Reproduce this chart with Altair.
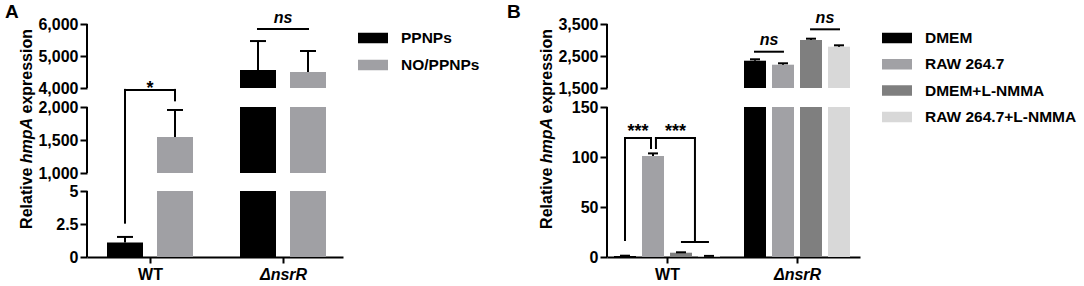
import altair as alt
import pandas as pd

FONT = "Liberation Sans, Arial, Helvetica, sans-serif"

# ---------------- Panel A values ----------------
A_groups = ["WT", "ΔnsrR"]
A_series = ["PPNPs", "NO/PPNPs"]
A_colors = ["#000000", "#a0a0a4"]
A_mean_WT = [1.1, 1545]
A_mean_nsrR = [4560, 4500]
A_sem_WT = [0.42, 410]
A_sem_nsrR = [907, 656]
A_ticks = [0, 2.5, 5, 1000, 1500, 2000, 4000, 5000, 6000]
A_seg_lo = [0, 1000, 4000]
A_seg_hi = [5, 2000, 6000]
# significance annotations (data units)
A_line_x1 = [-0.188, -0.188, 0.188, 0.812]
A_line_y1 = [2.6, 3800, 3800, 5844]
A_line_x2 = [-0.188, 0.188, 0.188, 1.188]
A_line_y2 = [3800, 3800, 2700, 5844]
A_star_text = ["*"]
A_star_x = [0.0]
A_star_y = [3370]
A_ns_x = [1.0]
A_ns_y = [6031]

# ---------------- Panel B values ----------------
B_groups = ["WT", "ΔnsrR"]
B_series = ["DMEM", "RAW 264.7", "DMEM+L-NMMA", "RAW 264.7+L-NMMA"]
B_colors = ["#000000", "#a1a1a5", "#7f7f7f", "#d8d8d8"]
B_mean_WT = [1.0, 101, 4.3, 0.8]
B_mean_nsrR = [2353, 2228, 3000, 2791]
B_sem_WT = [0.3, 2.6, 0.4, 0.3]
B_sem_nsrR = [44, 44, 41, 43]
B_ticks = [0, 50, 100, 150, 1500, 2500, 3500]
B_seg_lo = [0, 1500]
B_seg_hi = [150, 3500]
B_line_x1 = [-0.323, -0.323, -0.123, -0.085, -0.085, 0.215, 0.115, 0.677, 1.108]
B_line_y1 = [17, 119, 119, 109, 119, 119, 15, 2634, 3334]
B_line_x2 = [-0.323, -0.123, -0.123, -0.085, 0.215, 0.215, 0.315, 0.892, 1.323]
B_line_y2 = [119, 119, 109, 119, 119, 15, 15, 2634, 3334]
B_star_text = ["***", "***"]
B_star_x = [-0.223, 0.065]
B_star_y = [120, 120]
B_ns_x = [0.785, 1.215]
B_ns_y = [2844, 3531]


def bar_table(groups, series, means, sems):
    rows = []
    for gi, g in enumerate(groups):
        for si, s in enumerate(series):
            rows.append({"group": g, "gi": gi, "series": s, "si": si,
                         "mean": means[gi][si], "sem": sems[gi][si]})
    return pd.DataFrame(rows)


def panel(groups, series, colors, means, sems, ticks, seg_lo, seg_hi,
          y_dom, y_rng, x_dom, slot, half, cap, lines, stars, ns,
          legend_xy, row_pad, letter, letter_x, width, height):
    n = len(series)
    xs = alt.Scale(domain=x_dom, nice=False, zero=False)
    ys = alt.Scale(domain=y_dom, range=y_rng, nice=False, zero=False)
    cs = alt.Scale(domain=series, range=colors)

    y_axis = alt.Axis(values=ticks, labelExpr="format(datum.value, ',')", domain=False,
                      grid=False, tickSize=7, tickWidth=2, tickColor="black",
                      labelFont=FONT, labelFontSize=16, labelFontWeight="bold",
                      labelColor="black", labelPadding=2, labelOverlap=False, title=None)
    x_axis = alt.Axis(values=[0, 1],
                      labelExpr="datum.value == 0 ? '%s' : '%s'" % (groups[0], groups[1]),
                      labelFontStyle={"condition": {"test": "datum.value == 1", "value": "italic"},
                                      "value": "normal"},
                      domainWidth=2, domainColor="black", tickSize=6, tickWidth=2,
                      tickColor="black", grid=False, labelFont=FONT, labelFontSize=16,
                      labelFontWeight="bold", labelColor="black", labelPadding=3,
                      labelFlush=False, labelOverlap=False, title=None)
    legend = alt.Legend(orient="none", legendX=legend_xy[0], legendY=legend_xy[1], title=None,
                        direction="vertical", symbolType="M-1,-0.35H1V0.35H-1Z",
                        symbolSize=900, symbolStrokeWidth=0, symbolOpacity=1,
                        clipHeight=16, rowPadding=row_pad, padding=0,
                        labelFont=FONT, labelFontSize=15.5, labelFontWeight="bold",
                        labelColor="black", labelOffset=13, labelLimit=400)

    def X(field, **kw):
        return alt.X(field, scale=xs, axis=x_axis, **kw)

    def Y(field, **kw):
        return alt.Y(field, scale=ys, axis=y_axis, **kw)

    df = bar_table(groups, series, means, sems)
    base = alt.Chart(df).transform_calculate(
        xc=f"datum.gi + (datum.si - {(n - 1) / 2}) * {slot}",
        hi="datum.mean + datum.sem",
    ).transform_calculate(
        x_left=f"datum.xc - {half}", x_right=f"datum.xc + {half}",
        cap_l=f"datum.xc - {cap}", cap_r=f"datum.xc + {cap}",
    )

    layers = []
    # axis segments (broken y axis)
    seg_df = pd.DataFrame({"lo": seg_lo, "hi": seg_hi})
    layers.append(alt.Chart(seg_df).mark_rule(color="black", strokeWidth=2).encode(
        x=alt.XDatum(x_dom[0], type="quantitative", scale=xs, axis=x_axis),
        y=Y("lo:Q"), y2="hi:Q"))

    # bars, drawn piece by piece in each axis segment
    for lo, hi in zip(seg_lo, seg_hi):
        layers.append(base.transform_filter(f"datum.mean > {lo}").transform_calculate(
            top=f"min(datum.mean, {hi})", bot=f"{lo}").mark_rect().encode(
            x=X("x_left:Q"), x2="x_right:Q",
            y=Y("top:Q"), y2="bot:Q",
            color=alt.Color("series:N", scale=cs, legend=legend)))

    # error bars (upper only)
    layers.append(base.mark_rule(color="black", strokeWidth=2).encode(
        x=X("xc:Q"), y=Y("mean:Q"), y2="hi:Q"))
    layers.append(base.mark_rule(color="black", strokeWidth=2).encode(
        x=X("cap_l:Q"), x2="cap_r:Q", y=Y("hi:Q")))

    # significance brackets
    ldf = pd.DataFrame({"x1": lines[0], "y1": lines[1], "x2": lines[2], "y2": lines[3]})
    layers.append(alt.Chart(ldf).mark_rule(color="black", strokeWidth=2, strokeCap="square").encode(
        x=X("x1:Q"), x2="x2:Q", y=Y("y1:Q"), y2="y2:Q"))
    sdf = pd.DataFrame({"t": stars[0], "x": stars[1], "y": stars[2]})
    layers.append(alt.Chart(sdf).mark_text(font=FONT, fontSize=18, fontWeight="bold",
                                           color="black", baseline="alphabetic").encode(
        x=X("x:Q"), y=Y("y:Q"), text="t:N"))
    ndf = pd.DataFrame({"t": ["ns"] * len(ns[0]), "x": ns[0], "y": ns[1]})
    layers.append(alt.Chart(ndf).mark_text(font=FONT, fontSize=16, fontWeight="bold",
                                           fontStyle="italic", color="black",
                                           baseline="alphabetic").encode(
        x=X("x:Q"), y=Y("y:Q"), text="t:N"))

    # y-axis title (with italic gene name) and panel letter
    common = dict(font=FONT, fontSize=16, fontWeight="bold", color="black",
                  angle=270, baseline="middle")
    layers.append(alt.Chart(pd.DataFrame({"t": ["Relative"]})).mark_text(
        align="right", **common).encode(x=alt.value(-60), y=alt.value(143.5), text="t:N"))
    layers.append(alt.Chart(pd.DataFrame({"t": ["hmpA"]})).mark_text(
        align="center", fontStyle="italic", **common).encode(
        x=alt.value(-60), y=alt.value(116.5), text="t:N"))
    layers.append(alt.Chart(pd.DataFrame({"t": ["expression"]})).mark_text(
        align="left", **common).encode(x=alt.value(-60), y=alt.value(89.5), text="t:N"))
    layers.append(alt.Chart(pd.DataFrame({"t": [letter]})).mark_text(
        font=FONT, fontSize=19, fontWeight="bold", color="black", align="left",
        baseline="top").encode(x=alt.value(letter_x), y=alt.value(-21), text="t:N"))

    return alt.layer(*layers).properties(width=width, height=height)


A = panel(A_groups, A_series, A_colors, [A_mean_WT, A_mean_nsrR], [A_sem_WT, A_sem_nsrR],
          A_ticks, A_seg_lo, A_seg_hi,
          y_dom=[0, 5, 1000, 2000, 4000, 6000], y_rng=[233, 167, 149, 83, 64, 0],
          x_dom=[-63 / 133, 193 / 133], slot=50 / 133, half=18 / 133, cap=8 / 133,
          lines=[A_line_x1, A_line_y1, A_line_x2, A_line_y2],
          stars=[A_star_text, A_star_x, A_star_y], ns=[A_ns_x, A_ns_y],
          legend_xy=(271, 6), row_pad=10, letter="A", letter_x=-82, width=256, height=233)

B = panel(B_groups, B_series, B_colors, [B_mean_WT, B_mean_nsrR], [B_sem_WT, B_sem_nsrR],
          B_ticks, B_seg_lo, B_seg_hi,
          y_dom=[0, 150, 1500, 3500], y_rng=[233, 83, 64, 0],
          x_dom=[-60 / 130, 193 / 130], slot=28 / 130, half=11 / 130, cap=5 / 130,
          lines=[B_line_x1, B_line_y1, B_line_x2, B_line_y2],
          stars=[B_star_text, B_star_x, B_star_y], ns=[B_ns_x, B_ns_y],
          legend_xy=(275, 6), row_pad=9.3, letter="B", letter_x=-100, width=253, height=233)

chart = alt.hconcat(A, B, spacing=264, bounds="flush").resolve_scale(
    color="independent", x="independent", y="independent"
).properties(padding={"left": 5, "top": 3, "right": 0, "bottom": 0}).configure_view(stroke=None)

chart.save("out.html", embed_options={"renderer": "svg", "actions": False})
